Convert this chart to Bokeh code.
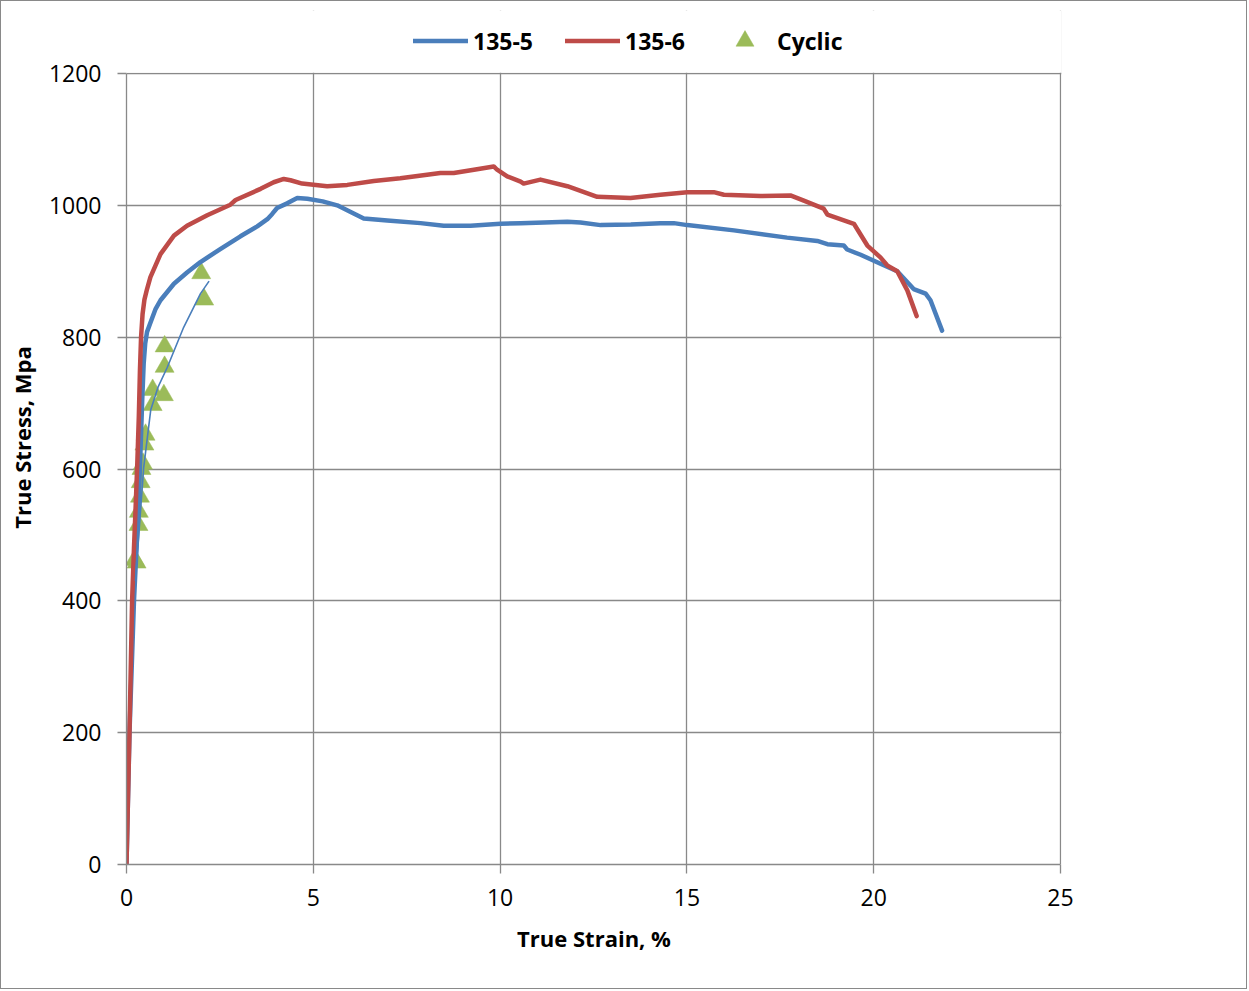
from bokeh.plotting import figure
from bokeh.models import Range1d, SingleIntervalTicker, Legend, LegendItem, BoxAnnotation
from bokeh.embed import file_html
from bokeh.resources import INLINE

# ---- data ----
strain_135_5 = [0, 0.08, 0.20, 0.26, 0.32, 0.37, 0.42, 0.46, 0.50, 0.55, 0.64, 0.78, 0.91,
                1.27, 1.62, 1.98, 2.52, 3.05, 3.50, 3.77, 3.90, 4.03, 4.30, 4.57, 4.84,
                5.25, 5.64, 6.00, 6.35, 6.98, 7.87, 8.49, 9.21, 10.01, 10.55, 11.80, 12.15,
                12.69, 13.50, 14.29, 14.65, 15.01, 16.26, 17.68, 18.49, 18.76, 19.20, 19.29,
                19.65, 20.27, 20.63, 21.07, 21.39, 21.52, 21.83]
stress_135_5 = [0, 200, 400, 470, 540, 620, 704, 760, 790, 808, 822, 843, 856,
                881, 898, 914, 934, 953, 968, 979, 987, 996, 1003, 1011, 1010,
                1006, 1000, 990, 980, 977, 973, 969, 969, 972, 973, 975, 974,
                970, 971, 973, 973, 970, 962, 951, 946, 941, 939, 933,
                925, 909, 900, 873, 866, 856, 810]

strain_135_6 = [0, 0.08, 0.15, 0.20, 0.25, 0.29, 0.33, 0.36, 0.39, 0.43, 0.48, 0.55, 0.64, 0.91,
                1.27, 1.62, 2.16, 2.78, 2.92, 3.59, 3.94, 4.21, 4.39, 4.70, 5.37, 5.91,
                6.62, 7.33, 8.40, 8.76, 9.30, 9.83, 9.92, 10.19, 10.55, 10.63, 11.08,
                11.80, 12.60, 13.49, 14.29, 15.01, 15.72, 15.99, 16.97, 17.77, 18.13,
                18.66, 18.76, 19.47, 19.83, 20.18, 20.36, 20.63, 20.90, 21.15]
stress_135_6 = [0, 200, 400, 480, 550, 610, 680, 750, 800, 835, 857, 873, 891, 926,
                954, 969, 985, 1001, 1008, 1025, 1035, 1040, 1038, 1033, 1029, 1031,
                1037, 1041, 1049, 1049, 1054, 1059, 1054, 1044, 1036, 1033, 1039,
                1029, 1013, 1011, 1016, 1020, 1020, 1016, 1014, 1015, 1007,
                995, 986, 972, 939, 921, 909, 900, 871, 832]

cyclic_strain = [0.22, 0.27, 0.32, 0.33, 0.36, 0.38, 0.40, 0.44, 0.48, 0.51,
                 0.70, 0.70, 1.00, 1.02, 1.02, 2.00, 2.08]
cyclic_stress = [462, 458, 515, 535, 558, 580, 600, 608, 637, 652,
                 697, 720, 712, 755, 786, 897, 857]

trend_strain = [0.24, 0.26, 0.33, 0.46, 0.65, 0.85, 1.09, 1.53, 1.98, 2.21]
trend_stress = [430, 451, 501, 602, 690, 725, 754, 815, 866, 885]

x_min, x_max = 0, 25
y_min, y_max = 0, 1200
x_ticks_interval = 5
y_ticks_interval = 200

BLUE = "#4A7EBB"
RED = "#BE4B48"
GREEN = "#9BBB59"
GRID = "#898989"
FONT = "Open Sans"

# layout: 934 px for 0..25 and 791 px for 0..1200; one extra px on the right
# and a 63 px strip above the 1200 line (which holds the legend, kept inside
# the frame so that it is not clipped)
frame_w_px, frame_h_px = 934, 791
legend_strip_px = 63
x_end = x_max + 1 * (x_max - x_min) / frame_w_px
y_top = y_max + legend_strip_px * (y_max - y_min) / frame_h_px

p = figure(width=1247, height=989, output_backend="svg", toolbar_location=None,
           x_range=Range1d(x_min, x_end), y_range=Range1d(y_min, y_top),
           min_border_left=125, min_border_right=187, min_border_top=9,
           min_border_bottom=126)
p.styles = {"border": "1px solid #898989"}

p.outline_line_color = None
p.background_fill_color = "white"
p.border_fill_color = "white"

for ax in (p.xaxis[0], p.yaxis[0]):
    ax.axis_line_color = GRID
    ax.axis_line_width = 1.3
    ax.major_tick_line_color = GRID
    ax.major_tick_line_width = 1.3
    ax.major_tick_in = 0
    ax.major_tick_out = 9
    ax.minor_tick_line_color = None
    ax.major_label_text_font = FONT
    ax.major_label_text_font_size = "23px"
    ax.major_label_text_color = "black"
    ax.axis_label_text_font = FONT
    ax.axis_label_text_font_size = "22px"
    ax.axis_label_text_font_style = "bold"
    ax.axis_label_text_color = "black"

p.yaxis[0].bounds = (y_min, y_max)
p.xaxis[0].bounds = (x_min, x_max)
p.xaxis[0].ticker = SingleIntervalTicker(interval=x_ticks_interval)
p.yaxis[0].ticker = SingleIntervalTicker(interval=y_ticks_interval)
p.xaxis[0].axis_label = "True Strain, %"
p.yaxis[0].axis_label = "True Stress, Mpa"
p.xaxis[0].major_label_standoff = 15
p.yaxis[0].major_label_standoff = 16
p.xaxis[0].axis_label_standoff = 14
p.yaxis[0].axis_label_standoff = 9

for g in (p.xgrid[0], p.ygrid[0]):
    g.grid_line_color = GRID
    g.grid_line_width = 1.3
p.xgrid[0].ticker = p.xaxis[0].ticker
p.ygrid[0].ticker = p.yaxis[0].ticker

# white strip hiding the vertical grid lines above the 1200 line
p.add_layout(BoxAnnotation(bottom=y_max + 1.2, fill_color="white", fill_alpha=1.0,
                           line_color=None, level="annotation"))

r_cyc = p.scatter(cyclic_strain, cyclic_stress, marker="triangle", size=19,
                  fill_color=GREEN, line_color=GREEN, line_width=0.5)
r5 = p.line(strain_135_5, stress_135_5, line_color=BLUE, line_width=4.5,
            line_cap="round", line_join="round")
r6 = p.line(strain_135_6, stress_135_6, line_color=RED, line_width=4.5,
            line_cap="round", line_join="round")
p.line(trend_strain, trend_stress, line_color=BLUE, line_width=1.6)

legend = Legend(items=[LegendItem(label="135-5", renderers=[r5]),
                       LegendItem(label="135-6", renderers=[r6]),
                       LegendItem(label="Cyclic", renderers=[r_cyc])],
                orientation="horizontal", location=(287, 801),
                glyph_width=55, glyph_height=45, label_standoff=5, spacing=32,
                padding=2, margin=0, border_line_color=None,
                background_fill_alpha=0,
                label_text_font=FONT, label_text_font_size="23px",
                label_text_font_style="bold", label_text_color="black")
p.add_layout(legend, "center")

open("out.html", "w").write(file_html(p, INLINE))
